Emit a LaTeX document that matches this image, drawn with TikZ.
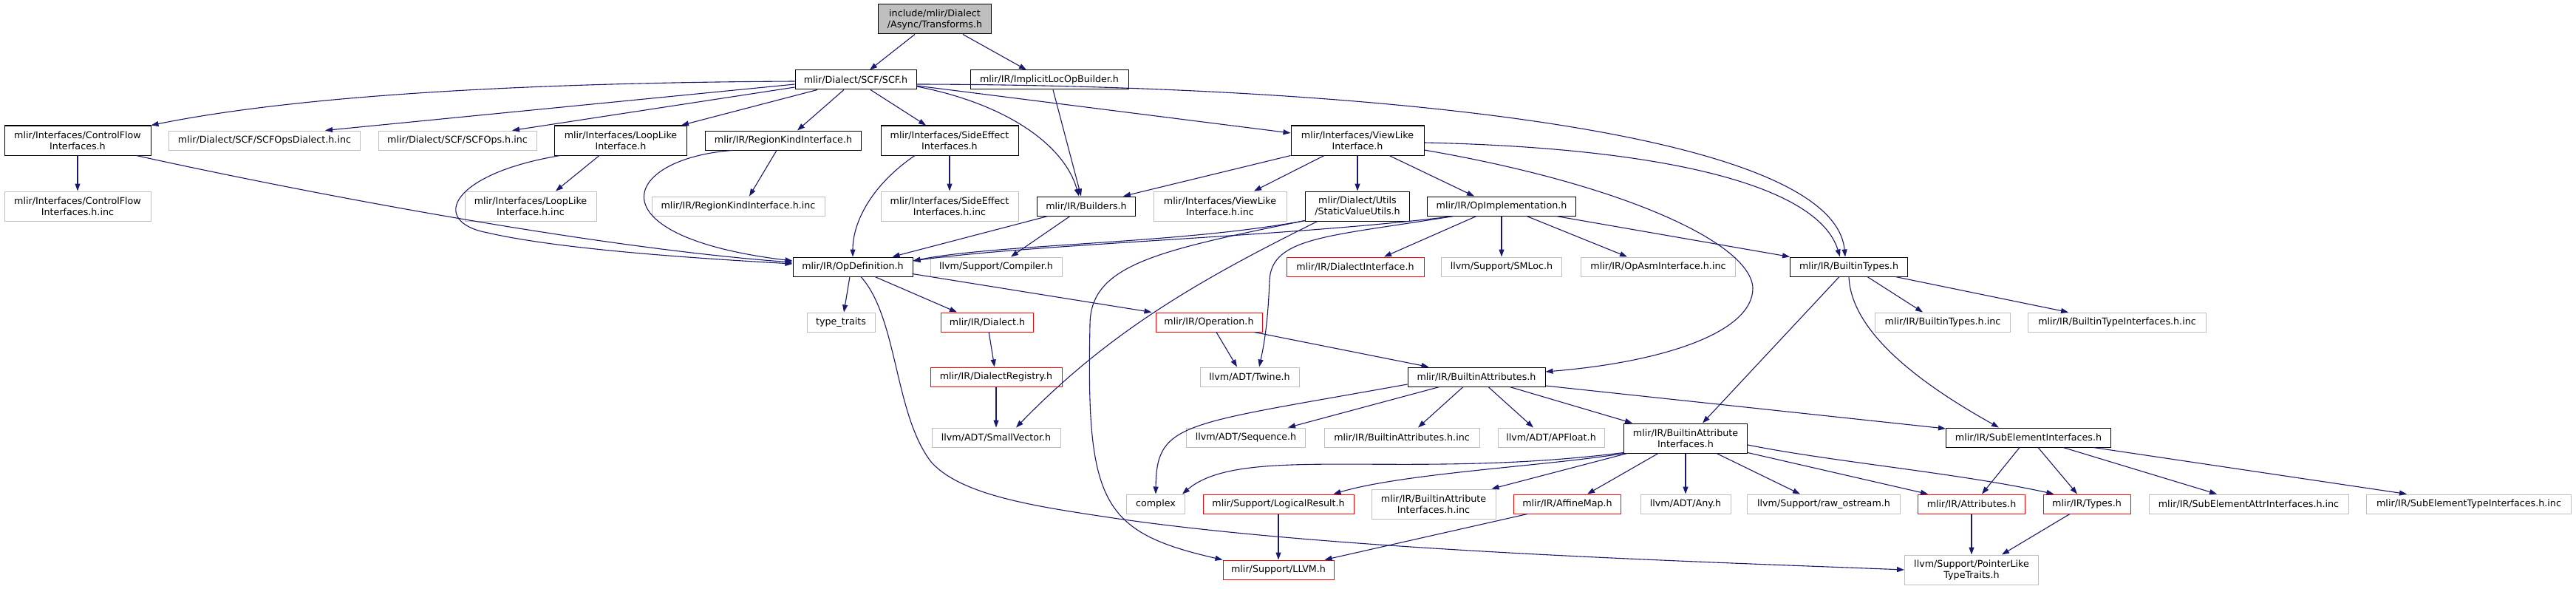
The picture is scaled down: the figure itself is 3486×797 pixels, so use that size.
\documentclass[tikz,border=0pt]{standalone}
\usepackage{fontspec}
\setmainfont{DejaVu Sans}
\usetikzlibrary{calc,arrows.meta}
\definecolor{edgeblue}{HTML}{191970}
\definecolor{extgray}{HTML}{BFBFBF}
\definecolor{topfill}{HTML}{BFBFBF}
\definecolor{missred}{HTML}{FF0000}
\tikzset{
  base/.style={draw, inner sep=0pt, font=\fontsize{6.35}{7.5}\selectfont, align=center, line width=0.5pt, minimum height=13pt},
  two/.style={minimum height=20pt},
  doc/.style={base, draw=black},
  ext/.style={base, draw=extgray},
  miss/.style={base, draw=missred},
  topn/.style={base, draw=black, fill=topfill, two},
  e/.style={draw=edgeblue, line width=0.55pt, -{Triangle[length=5pt,width=3.5pt]}}
}
\begin{document}
\begin{tikzpicture}[x=0.5pt,y=-0.5pt]
\useasboundingbox (0,0) rectangle (3486,797);
% nodes
\node[topn, minimum width=76.5pt] (T) at (1265,26) {include/mlir/Dialect\\/Async/Transforms.h};
\node[doc, minimum width=82pt] (scf) at (1158,108) {mlir/Dialect/SCF/SCF.h};
\node[doc, minimum width=107pt] (ilob) at (1420,108) {mlir/IR/ImplicitLocOpBuilder.h};
\node[doc, two, minimum width=99pt] (cf) at (105,190) {mlir/Interfaces/ControlFlow\\Interfaces.h};
\node[ext, minimum width=129.5pt] (scfd) at (358,190) {mlir/Dialect/SCF/SCFOpsDialect.h.inc};
\node[ext, minimum width=107pt] (scfo) at (619,190) {mlir/Dialect/SCF/SCFOps.h.inc};
\node[doc, two, minimum width=89.5pt] (ll) at (840,190) {mlir/Interfaces/LoopLike\\Interface.h};
\node[doc, minimum width=105.5pt] (rk) at (1060,190) {mlir/IR/RegionKindInterface.h};
\node[doc, two, minimum width=93pt] (se) at (1285,190) {mlir/Interfaces/SideEffect\\Interfaces.h};
\node[doc, two, minimum width=90pt] (vl) at (1837,190) {mlir/Interfaces/ViewLike\\Interface.h};
\node[ext, two, minimum width=99pt] (cfinc) at (105,279) {mlir/Interfaces/ControlFlow\\Interfaces.h.inc};
\node[ext, two, minimum width=89pt] (llinc) at (718,279) {mlir/Interfaces/LoopLike\\Interface.h.inc};
\node[ext, minimum width=117pt] (rkinc) at (999,279) {mlir/IR/RegionKindInterface.h.inc};
\node[ext, two, minimum width=93pt] (seinc) at (1285,279) {mlir/Interfaces/SideEffect\\Interfaces.h.inc};
\node[doc, minimum width=66.5pt] (bld) at (1470,279) {mlir/IR/Builders.h};
\node[ext, two, minimum width=90pt] (vlinc) at (1651,279) {mlir/Interfaces/ViewLike\\Interface.h.inc};
\node[doc, two, minimum width=70.5pt] (svu) at (1837,279) {mlir/Dialect/Utils\\/StaticValueUtils.h};
\node[doc, minimum width=100.5pt] (opi) at (2032,279) {mlir/IR/OpImplementation.h};
\node[doc, minimum width=81pt] (opd) at (1154,361) {mlir/IR/OpDefinition.h};
\node[ext, minimum width=89pt] (comp) at (1348,361) {llvm/Support/Compiler.h};
\node[miss, minimum width=93pt] (di) at (1834,361) {mlir/IR/DialectInterface.h};
\node[ext, minimum width=81.5pt] (sml) at (2032,361) {llvm/Support/SMLoc.h};
\node[ext, minimum width=104.5pt] (oai) at (2244,361) {mlir/IR/OpAsmInterface.h.inc};
\node[doc, minimum width=79.5pt] (bt) at (2502,361) {mlir/IR/BuiltinTypes.h};
\node[ext, minimum width=46pt] (tt) at (1138,436) {type\_traits};
\node[miss, minimum width=62.5pt] (dia) at (1336,436) {mlir/IR/Dialect.h};
\node[miss, minimum width=72pt] (op) at (1636,436) {mlir/IR/Operation.h};
\node[ext, minimum width=91.5pt] (btinc) at (2629,436) {mlir/IR/BuiltinTypes.h.inc};
\node[ext, minimum width=120.5pt] (btiinc) at (2865,436) {mlir/IR/BuiltinTypeInterfaces.h.inc};
\node[miss, minimum width=89pt] (dr) at (1348,510) {mlir/IR/DialectRegistry.h};
\node[ext, minimum width=67pt] (tw) at (1691,510) {llvm/ADT/Twine.h};
\node[doc, minimum width=93pt] (ba) at (1998,510) {mlir/IR/BuiltinAttributes.h};
\node[ext, minimum width=87pt] (sv) at (1348,592) {llvm/ADT/SmallVector.h};
\node[ext, minimum width=80.5pt] (seq) at (1686,592) {llvm/ADT/Sequence.h};
\node[ext, minimum width=105pt] (bainc) at (1897,592) {mlir/IR/BuiltinAttributes.h.inc};
\node[ext, minimum width=72pt] (apf) at (2099,592) {llvm/ADT/APFloat.h};
\node[doc, two, minimum width=83.5pt] (bai) at (2281,593) {mlir/IR/BuiltinAttribute\\Interfaces.h};
\node[doc, minimum width=111.5pt] (sei) at (2745,592) {mlir/IR/SubElementInterfaces.h};
\node[ext, minimum width=39.5pt] (cx) at (1564,682) {complex};
\node[miss, minimum width=102pt] (lr) at (1730,682) {mlir/Support/LogicalResult.h};
\node[ext, two, minimum width=84pt] (baiinc) at (1940,682) {mlir/IR/BuiltinAttribute\\Interfaces.h.inc};
\node[miss, minimum width=72.5pt] (am) at (2121,682) {mlir/IR/AffineMap.h};
\node[ext, minimum width=61pt] (any) at (2281,682) {llvm/ADT/Any.h};
\node[ext, minimum width=103.5pt] (ro) at (2468,682) {llvm/Support/raw\_ostream.h};
\node[miss, minimum width=72.5pt] (attr) at (2668,682) {mlir/IR/Attributes.h};
\node[miss, minimum width=59pt] (ty) at (2824,682) {mlir/IR/Types.h};
\node[ext, minimum width=135pt] (seainc) at (3043,682) {mlir/IR/SubElementAttrInterfaces.h.inc};
\node[ext, minimum width=138.5pt] (setinc) at (3341,682) {mlir/IR/SubElementTypeInterfaces.h.inc};
\node[miss, minimum width=75pt] (llvm) at (1730,771) {mlir/Support/LLVM.h};
\node[ext, two, minimum width=90.5pt] (plt) at (2668,771) {llvm/Support/PointerLike\\TypeTraits.h};
% edges
\draw[e] ($(T.south)+(-27,0)$) -- ($(scf.north)+(19,0)$);
\draw[e] ($(T.south)+(38,0)$) -- ($(ilob.north)+(-31,0)$);
\draw[e] ($(ilob.south)+(5,0)$) -- ($(bld.north)+(-7,0)$);
\draw[e] ($(scf.east)+(0,9)$) .. controls (1360,140) and (1440,195) .. ($(bld.north)+(-10,0)$);
\draw[e] ($(scf.east)+(0,8)$) -- ($(vl.west)+(0,-10)$);
\draw[e] ($(scf.east)+(0,6)$) .. controls (1800,115) and (2480,170) .. ($(bt.north)+(-5,0)$);
\draw[e] ($(scf.south)+(20,0)$) -- ($(se.north)+(-32,0)$);
\draw[e] ($(scf.south)+(-16,0)$) -- ($(rk.north)+(19,0)$);
\draw[e] ($(scf.south)+(-52,0)$) -- ($(ll.north east)+(-8,0)$);
\draw[e] ($(scf.west)+(0,10)$) -- ($(scfo.north)+(74,0)$);
\draw[e] ($(scf.west)+(0,6)$) -- ($(scfd.north)+(82,0)$);
\draw[e] ($(scf.west)+(0,2)$) .. controls (700,112) and (400,130) .. (cf.north east);
\draw[e] (cf) -- (cfinc);
\draw[e] ($(cf.south east)+(-20,0)$) .. controls (400,258) and (800,335) .. ($(opd.west)+(0,-6)$);
\draw[e] ($(ll.south)+(-29,0)$) -- ($(llinc.north)+(34,0)$);
\draw[e] ($(ll.south)+(-82,0)$) .. controls (610,235) and (580,300) .. (660,315) .. controls (760,338) and (950,350) .. ($(opd.west)+(0,-4)$);
\draw[e] ($(rk.south)+(-9,0)$) -- ($(rkinc.north)+(15,0)$);
\draw[e] ($(rk.south)+(-69,0)$) .. controls (840,215) and (800,320) .. ($(opd.west)+(0,-8)$);
\draw[e] (se) -- (seinc);
\draw[e] ($(se.south)+(-47,0)$) .. controls (1180,250) and (1154,300) .. (opd.north);
\draw[e] ($(bld.south)+(-52,0)$) -- ($(opd.north east)+(-28,0)$);
\draw[e] ($(bld.south)+(-22,0)$) -- ($(comp.north)+(20,0)$);
\draw[e] (vl.south west) -- ($(bld.north east)+(-17,0)$);
\draw[e] ($(vl.south)+(-45,0)$) -- ($(vlinc.north)+(46,0)$);
\draw[e] (vl) -- (svu);
\draw[e] ($(vl.south)+(43,0)$) -- ($(opi.north)+(-37,0)$);
\draw[e] ($(vl.east)+(0,3)$) .. controls (2250,200) and (2460,250) .. ($(bt.north)+(-12,0)$);
\draw[e] ($(vl.east)+(0,13)$) .. controls (2200,250) and (2370,330) .. (2372,390) .. controls (2372,450) and (2250,490) .. ($(ba.east)+(0,-7)$);
\draw[e] ($(svu.south west)+(0,-1)$) .. controls (1600,330) and (1350,330) .. ($(opd.east)+(0,-8)$);
\draw[e] ($(opi.south west)+(36,0)$) .. controls (1750,320) and (1400,330) .. ($(opd.east)+(0,-8)$);
\draw[e] ($(svu.south west)+(17,0)$) .. controls (1620,380) and (1500,450) .. ($(sv.north)+(27,0)$);
\draw[e] ($(svu.south west)+(0,-1)$) .. controls (1560,340) and (1475,360) .. (1475,440) .. controls (1470,680) and (1490,720) .. (llvm.north west);
\draw[e] ($(opi.south west)+(67,0)$) -- ($(di.north)+(39,0)$);
\draw[e] (opi) -- (sml);
\draw[e] ($(opi.south)+(34,0)$) -- ($(oai.north)+(-42,0)$);
\draw[e] ($(opi.south east)+(-27,0)$) -- (bt.north west);
\draw[e] ($(opi.south west)+(36,0)$) .. controls (1800,320) and (1720,320) .. (1718,380) .. controls (1716,430) and (1712,460) .. ($(tw.north)+(13,0)$);
\draw[e] ($(opd.south)+(-4,0)$) -- ($(tt.north)+(4,0)$);
\draw[e] ($(opd.south)+(30,0)$) -- ($(dia.north)+(-41,0)$);
\draw[e] ($(opd.south east)+(-1,-4)$) -- ($(op.north west)+(-5,0)$);
\draw[e] ($(opd.south)+(11,0)$) .. controls (1215,430) and (1210,560) .. (1260,625) .. controls (1300,670) and (1400,685) .. (1500,700) .. controls (1800,745) and (2300,760) .. (plt.west);
\draw[e] (dia) -- (dr);
\draw[e] (dr) -- (sv);
\draw[e] ($(op.south)+(10,0)$) -- ($(tw.north)+(-17,0)$);
\draw[e] ($(op.south east)+(-11,0)$) -- ($(ba.north west)+(29,0)$);
\draw[e] ($(ba.west)+(0,10)$) .. controls (1600,575) and (1565,570) .. (cx.north);
\draw[e] ($(ba.south)+(-50,0)$) -- ($(seq.north east)+(-24,0)$);
\draw[e] ($(ba.south)+(-18,0)$) -- ($(bainc.north)+(22,0)$);
\draw[e] ($(ba.south)+(16,0)$) -- ($(apf.north)+(-24,0)$);
\draw[e] ($(ba.south)+(45,0)$) -- ($(bai.north west)+(12,0)$);
\draw[e] ($(ba.east)+(0,12)$) -- ($(sei.west)+(0,-12)$);
\draw[e] ($(bai.south west)+(0,-1)$) .. controls (1900,650) and (1680,600) .. ($(cx.north east)+(-4,0)$);
\draw[e] (bai.south west) .. controls (2100,630) and (1900,640) .. ($(lr.north east)+(-28,0)$);
\draw[e] ($(bai.south west)+(5,0)$) -- ($(baiinc.north east)+(-6,0)$);
\draw[e] ($(bai.south)+(-37,0)$) -- ($(am.north)+(27,0)$);
\draw[e] (bai) -- (any);
\draw[e] ($(bai.south)+(42,0)$) -- ($(ro.north)+(-32,0)$);
\draw[e] ($(bai.south east)+(0,-1)$) -- ($(attr.north west)+(14,0)$);
\draw[e] ($(bai.east)+(0,9)$) .. controls (2480,625) and (2650,640) .. ($(ty.north west)+(15,0)$);
\draw[e] (lr) -- (llvm);
\draw[e] ($(am.south west)+(19,0)$) -- ($(llvm.north east)+(-13,0)$);
\draw[e] ($(bt.south)+(-13,0)$) -- ($(bai.north)+(23,0)$);
\draw[e] (bt.south) .. controls (2505,450) and (2600,520) .. ($(sei.north)+(-40,0)$);
\draw[e] ($(bt.south)+(25,0)$) -- ($(btinc.north)+(-27,0)$);
\draw[e] ($(bt.south)+(63,0)$) -- ($(btiinc.north)+(-66,0)$);
\draw[e] ($(sei.south)+(-12,0)$) -- ($(attr.north)+(14,0)$);
\draw[e] ($(sei.south)+(13,0)$) -- ($(ty.north)+(-13,0)$);
\draw[e] ($(sei.south)+(47,0)$) -- ($(seainc.north)+(-43,0)$);
\draw[e] ($(sei.south)+(88,0)$) -- ($(setinc.north)+(-84,0)$);
\draw[e] (attr) -- (plt);
\draw[e] ($(ty.south)+(-23,0)$) -- ($(plt.north)+(41,0)$);
\end{tikzpicture}
\end{document}
